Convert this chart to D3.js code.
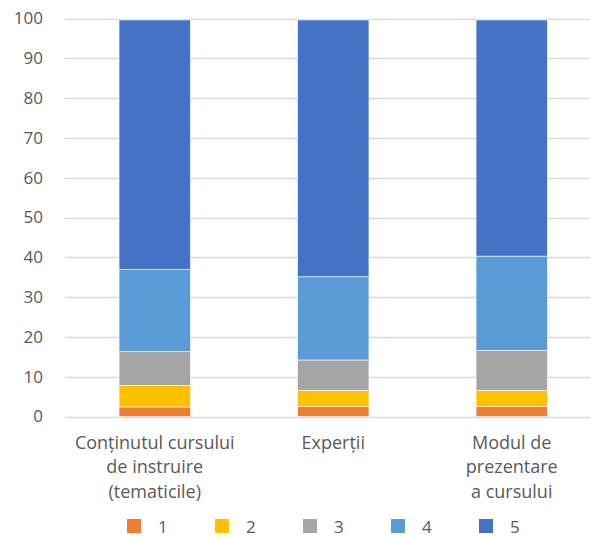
<!DOCTYPE html>
<html>
<head>
<meta charset="utf-8">
<script src="https://cdnjs.cloudflare.com/ajax/libs/d3/7.8.5/d3.min.js"></script>
<style>
  body { margin: 0; background: #fff; }
  text { font-family: "Open Sans", "Noto Sans", sans-serif; fill: #595959; }
</style>
</head>
<body>
<div id="chart"></div>
<script>
  // categories (each label split into lines) and the five rating series
  var categories = ['Conținutul cursului de instruire (tematicile)', 'Experții', 'Modul de prezentare a cursului'];
  var categoryLines = [
    ['Conținutul cursului', 'de instruire', '(tematicile)'],
    ['Experții'],
    ['Modul de', 'prezentare', 'a cursului']
  ];
  var seriesNames = ['1', '2', '3', '4', '5'];
  var s1 = [2.4, 2.5, 2.5];
  var s2 = [5.4, 4.0, 4.0];
  var s3 = [8.5, 7.7, 10.1];
  var s4 = [20.7, 20.9, 23.7];
  var s5 = [63.0, 64.9, 59.7];
  var yTicks = [0, 10, 20, 30, 40, 50, 60, 70, 80, 90, 100];
  var colors = ['#ED7D31', '#FFC000', '#A5A5A5', '#5B9BD5', '#4472C4'];

  var width = 590, height = 538;

  var svg = d3.select('#chart').append('svg')
      .attr('width', width)
      .attr('height', height);

  var x = d3.scaleBand()
      .domain(categories)
      .range([65.5, 601])
      .paddingInner(0.6)
      .paddingOuter(0.3);

  var y = d3.scaleLinear()
      .domain([0, 100])
      .range([416.5, 18.5]);

  // gridlines
  svg.append('g').selectAll('line').data(yTicks)
    .enter().append('line')
      .attr('x1', 65)
      .attr('x2', width)
      .attr('y1', function(d) { return Math.round(y(d)) + 0.5; })
      .attr('y2', function(d) { return Math.round(y(d)) + 0.5; })
      .attr('stroke', '#D9D9D9')
      .attr('stroke-width', 1.3);

  // y axis labels
  var yAxis = d3.axisLeft(y).tickValues(yTicks).tickSize(0).tickPadding(0);
  var ya = svg.append('g')
      .attr('transform', 'translate(43,0)')
      .call(yAxis);
  ya.select('.domain').remove();
  ya.selectAll('text')
      .attr('fill', '#595959')
      .style('font-size', '17px');

  // stacked bars
  var table = categories.map(function(c, i) {
    return { cat: c, '1': s1[i], '2': s2[i], '3': s3[i], '4': s4[i], '5': s5[i] };
  });
  var stacked = d3.stack().keys(seriesNames)(table);

  svg.append('g').selectAll('g').data(stacked)
    .enter().append('g')
      .attr('fill', function(d, i) { return colors[i]; })
    .selectAll('rect').data(function(d) { return d; })
    .enter().append('rect')
      .attr('x', function(d) { return x(d.data.cat); })
      .attr('width', x.bandwidth())
      .attr('y', function(d) { return y(d[1]) + (d[1] >= 100 ? 1.5 : 0); })
      .attr('height', function(d) { return y(d[0]) - y(d[1]) - (d[1] >= 100 ? 1.5 : 0); })
      .attr('stroke', '#fff')
      .attr('stroke-width', 0.6);

  // category labels
  var cl = svg.append('g').selectAll('text').data(categories)
    .enter().append('text')
      .attr('x', function(d) { return x(d) + x.bandwidth() / 2; })
      .attr('y', 448.5)
      .attr('text-anchor', 'middle')
      .style('font-size', '18px');
  cl.selectAll('tspan').data(function(d, i) { return categoryLines[i]; })
    .enter().append('tspan')
      .attr('x', function() { return d3.select(this.parentNode).attr('x'); })
      .attr('dy', function(d, i) { return i === 0 ? 0 : 24.5; })
      .text(function(d) { return d; });

  // legend
  var legend = svg.append('g').selectAll('g').data(seriesNames)
    .enter().append('g')
      .attr('transform', function(d, i) { return 'translate(' + (127 + i * 88) + ',519)'; });
  legend.append('rect')
      .attr('width', 14)
      .attr('height', 14)
      .attr('fill', function(d, i) { return colors[i]; });
  legend.append('text')
      .attr('x', 31)
      .attr('y', 13.5)
      .style('font-size', '17px')
      .text(function(d) { return d; });
</script>
</body>
</html>
